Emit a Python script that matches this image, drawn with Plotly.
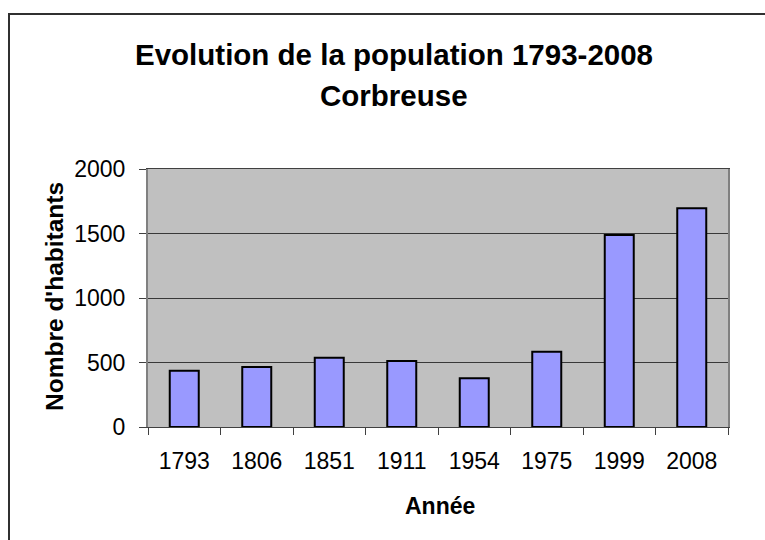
import plotly.graph_objects as go

annees = ["1793", "1806", "1851", "1911", "1954", "1975", "1999", "2008"]
habitants = [436, 465, 537, 512, 378, 584, 1488, 1695]
y_ticks = [0, 500, 1000, 1500, 2000]

W, H = 765, 540
L, R, T, B = 148, 37, 169, 113
pw, ph = W - L - R, H - T - B

def px(x):
    return (x - L) / pw

def py(y):
    return (H - B - y) / ph

FONT = "Liberation Sans, Arial, sans-serif"

fig = go.Figure(go.Bar(
    x=annees, y=habitants,
    marker=dict(color="#9999FF", line=dict(color="black", width=2)),
))

fig.update_layout(
    width=W, height=H,
    margin=dict(l=L, r=R, t=T, b=B),
    paper_bgcolor="white", plot_bgcolor="#C0C0C0",
    bargap=0.6, showlegend=False,
    font=dict(family=FONT, color="black"),
)

fig.update_xaxes(
    type="category", tickson="boundaries", ticks="outside", ticklen=7,
    tickcolor="#404040", tickwidth=1, showline=True, linecolor="#404040",
    linewidth=1, mirror=True, showgrid=False,
    tickfont=dict(size=23, family=FONT), ticklabelstandoff=13,
)
fig.update_yaxes(
    range=[0, 2000], tickvals=y_ticks, ticks="outside", ticklen=7,
    tickcolor="#404040", tickwidth=1, showline=True, linecolor="#808080",
    linewidth=2, mirror=True, showgrid=True, gridcolor="#383838",
    gridwidth=1.2, zeroline=False,
    tickfont=dict(size=23, family=FONT), ticklabelstandoff=9,
)

annots = [
    dict(text="<b>Evolution de la population 1793-2008</b>", x=px(394), y=py(54), size=29.5),
    dict(text="<b>Corbreuse</b>", x=px(394), y=py(95.5), size=29.5),
    dict(text="<b>Année</b>", x=px(439.5), y=py(506), size=23),
]
for a in annots:
    fig.add_annotation(text=a["text"], x=a["x"], y=a["y"], xref="paper", yref="paper",
                       xanchor="center", yanchor="middle", showarrow=False,
                       font=dict(size=a["size"], family=FONT, color="black"))
fig.add_annotation(text="<b>Nombre d'habitants</b>", x=px(54.5), y=py(296.5),
                   xref="paper", yref="paper", xanchor="center", yanchor="middle",
                   textangle=-90, showarrow=False,
                   font=dict(size=24.5, family=FONT, color="black"))

fig.add_shape(type="rect", xref="paper", yref="paper",
              x0=px(9), y0=py(14), x1=px(775), y1=py(550),
              line=dict(color="#303030", width=2), layer="below")

fig.write_html("out.html", config={"displayModeBar": False},
               post_script="document.body.style.margin='0';")
